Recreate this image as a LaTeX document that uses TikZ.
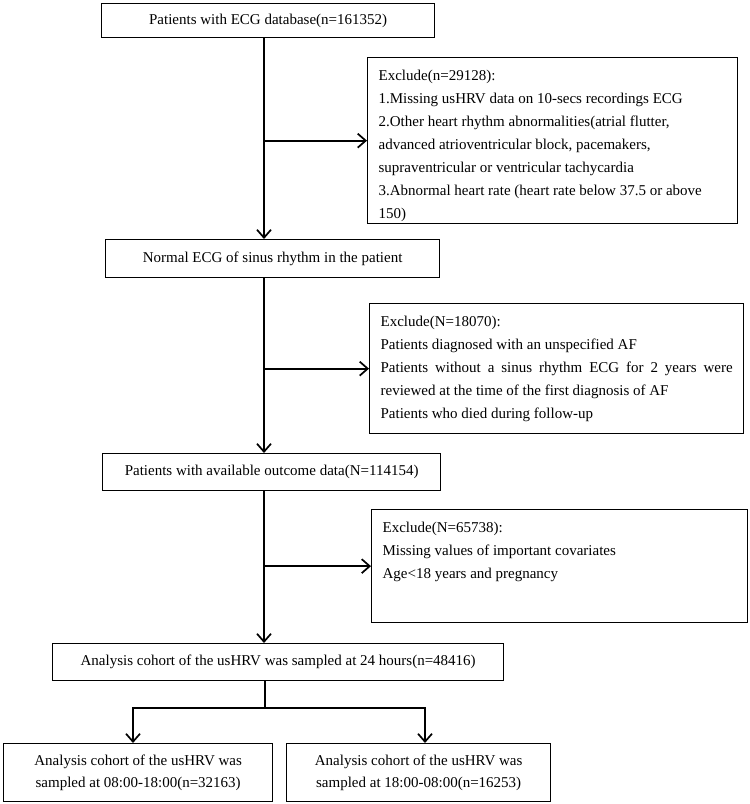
\documentclass[tikz,border=0pt]{standalone}
\usepackage{fontspec}
\setmainfont{Liberation Serif}
\usetikzlibrary{arrows.meta}
\newcommand\exbox[3]{\parbox[c][#2pt][t]{#1pt}{\vspace*{12pt}#3}}
\begin{document}
\begin{tikzpicture}[x=1pt,y=-1pt,
  box/.style={draw, line width=1.3pt, inner sep=0pt, anchor=north west, align=center,
    font=\fontsize{15}{22}\selectfont},
  exbox/.style={box, align=left, inner xsep=11pt, inner ysep=0pt,
    font=\fontsize{15}{23}\selectfont},
  link/.style={line width=1.7pt},
  conn/.style={link, -{Straight Barb[length=8pt,width=14pt,line width=1.7pt]}}]
\useasboundingbox (0,0) rectangle (750,804);

\node[box, minimum width=333pt, minimum height=34pt] (b1) at (101,3)
  {Patients with ECG database(n=161352)};
\node[exbox] (e1) at (367,57) {\exbox{348}{166}{Exclude(n=29128):\\
1.Missing usHRV data on 10-secs recordings ECG\\
2.Other heart rhythm abnormalities(atrial flutter,\\
advanced atrioventricular block, pacemakers,\\
supraventricular or ventricular tachycardia\\
3.Abnormal heart rate (heart rate below 37.5 or above\\
150)}};
\node[box, minimum width=334pt, minimum height=38pt] (b2) at (105,239)
  {Normal ECG of sinus rhythm in the patient};
\node[exbox] (e2) at (369,303) {\exbox{352}{130}{Exclude(N=18070):\\
Patients diagnosed with an unspecified AF\\
\makebox[\linewidth][s]{Patients without a sinus rhythm ECG for 2 years were}\\
reviewed at the time of the first diagnosis of AF\\
Patients who died during follow-up}};
\node[box, minimum width=338pt, minimum height=37pt] (b3) at (102,453)
  {Patients with available outcome data(N=114154)};
\node[exbox] (e3) at (371,509) {\exbox{354}{113}{Exclude(N=65738):\\
Missing values of important covariates\\
Age<18 years and pregnancy}};
\node[box, minimum width=451pt, minimum height=37pt] (b4) at (52,643)
  {Analysis cohort of the usHRV was sampled at 24 hours(n=48416)};
\node[box, minimum width=269pt, minimum height=58pt] (b5) at (3,743)
  {Analysis cohort of the usHRV was\\sampled at 08:00-18:00(n=32163)};
\node[box, minimum width=264pt, minimum height=58pt] (b6) at (286,743)
  {Analysis cohort of the usHRV was\\sampled at 18:00-08:00(n=16253)};

\coordinate (tr) at (264,0);
\coordinate (sp) at (265,708);
\coordinate (sl) at (133,708);
\coordinate (sr) at (425,708);

\draw[conn] (b1.south -| tr) -- (b2.north -| tr);
\draw[conn] (b2.south -| tr) -- (b3.north -| tr);
\draw[conn] (b3.south -| tr) -- (b4.north -| tr);
\draw[conn] (tr |- e1.west) -- (e1.west);
\draw[conn] (tr |- e2.west) -- (e2.west);
\draw[conn] (tr |- e3.west) -- (e3.west);

\draw[link] (b4.south -| sp) -- (sp);
\draw[conn] (sp) -- (sl) -- (sl |- b5.north);
\draw[conn] (sp) -- (sr) -- (sr |- b6.north);
\end{tikzpicture}
\end{document}
